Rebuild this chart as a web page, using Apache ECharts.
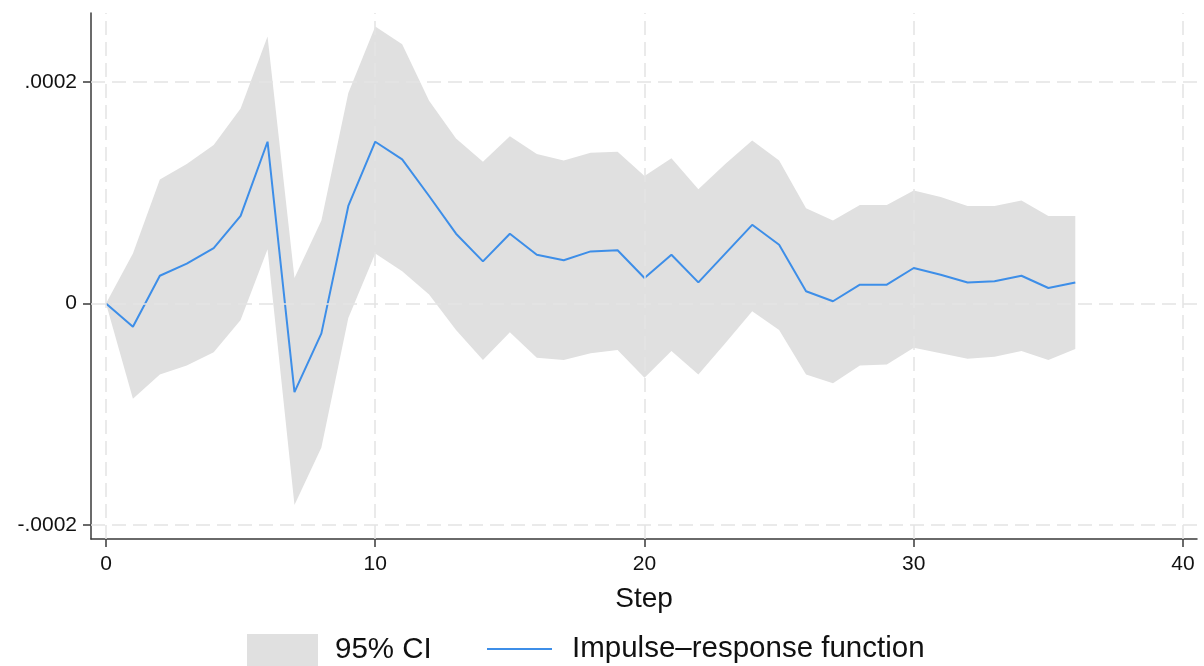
<!DOCTYPE html>
<html>
<head>
<meta charset="utf-8">
<script src="https://cdn.jsdelivr.net/npm/echarts@6/dist/echarts.min.js"></script>
<style>
html,body{margin:0;padding:0;background:#fff;}
#chart{width:1204px;height:666px;}
</style>
</head>
<body>
<div id="chart"></div>
<script>
const steps = [0,1,2,3,4,5,6,7,8,9,10,11,12,13,14,15,16,17,18,19,20,21,22,23,24,25,26,27,28,29,30,31,32,33,34,35,36];
const irf = [0,-2.1e-5,2.5e-5,3.6e-5,5.0e-5,7.9e-5,14.6e-5,-8.0e-5,-2.7e-5,8.8e-5,14.6e-5,13.0e-5,9.7e-5,6.3e-5,3.8e-5,6.3e-5,4.4e-5,3.9e-5,4.7e-5,4.8e-5,2.3e-5,4.4e-5,1.9e-5,4.5e-5,7.1e-5,5.3e-5,1.1e-5,0.2e-5,1.7e-5,1.7e-5,3.2e-5,2.6e-5,1.9e-5,2.0e-5,2.5e-5,1.4e-5,1.9e-5];
const ciUpper = [0,4.5e-5,11.2e-5,12.6e-5,14.3e-5,17.6e-5,24.1e-5,2.3e-5,7.5e-5,19.0e-5,25.0e-5,23.4e-5,18.3e-5,14.9e-5,12.8e-5,15.1e-5,13.5e-5,12.9e-5,13.6e-5,13.7e-5,11.5e-5,13.1e-5,10.3e-5,12.6e-5,14.7e-5,12.9e-5,8.6e-5,7.5e-5,8.9e-5,8.9e-5,10.2e-5,9.6e-5,8.8e-5,8.8e-5,9.3e-5,7.9e-5,7.9e-5];
const ciLower = [0,-8.6e-5,-6.4e-5,-5.6e-5,-4.4e-5,-1.5e-5,4.9e-5,-18.2e-5,-13.0e-5,-1.3e-5,4.5e-5,2.9e-5,0.8e-5,-2.4e-5,-5.1e-5,-2.6e-5,-4.9e-5,-5.1e-5,-4.5e-5,-4.2e-5,-6.7e-5,-4.3e-5,-6.4e-5,-3.6e-5,-0.7e-5,-2.4e-5,-6.4e-5,-7.2e-5,-5.6e-5,-5.5e-5,-4.0e-5,-4.5e-5,-5.0e-5,-4.8e-5,-4.3e-5,-5.1e-5,-4.1e-5];
const xTicks = [0,10,20,30,40];
const yTicks = [-0.0002,0,0.0002];
const xTitle = 'Step';
const ciName = '95% CI';
const irfName = 'Impulse\u2013response function';

const FONT = '"Liberation Sans", Arial, sans-serif';
const chart = echarts.init(document.getElementById('chart'), null, {renderer:'canvas'});

const gridLineStyle = {color:'#e4e4e4', width:1.5, type:[14,7]};
const axisColor = '#3a3a3a';

const option = {
  animation:false,
  backgroundColor:'#fff',
  grid:{left:91, top:13, right:7, bottom:127, containLabel:false, outerBoundsMode:'none'},
  xAxis:{
    type:'value', min:-0.557, max:40.52,
    name:xTitle, nameLocation:'middle', nameGap:46,
    nameTextStyle:{fontFamily:FONT, fontSize:28, color:'#111'},
    axisLine:{show:true, onZero:false, lineStyle:{color:axisColor, width:1.5}},
    axisTick:{show:true, length:8, customValues:xTicks, lineStyle:{color:axisColor, width:1.5}},
    axisLabel:{customValues:xTicks, margin:15, fontFamily:FONT, fontSize:21, color:'#111'},
    splitLine:{show:false}
  },
  yAxis:{
    type:'value', min:-2.126e-4, max:2.622e-4,
    axisLine:{show:true, onZero:false, lineStyle:{color:axisColor, width:1.5}},
    axisTick:{show:true, length:8, customValues:yTicks, lineStyle:{color:axisColor, width:1.5}},
    axisLabel:{customValues:yTicks, margin:14, fontFamily:FONT, fontSize:21, color:'#111',
      formatter:function(v){ return Math.abs(v) < 1e-12 ? '0' : String(v).replace('0.', '.'); }},
    splitLine:{show:false}
  },
  legend:[
    {left:247, top:634, padding:0, itemWidth:71, itemHeight:32,
     data:[{name:ciName, icon:'rect'}],
     textStyle:{fontFamily:FONT, fontSize:29.5, color:'#111', padding:[0,0,0,12]}},
    {left:487, top:634, padding:0, itemWidth:65, itemHeight:32,
     data:[{name:irfName, icon:'path://M0,0 L65,0 L65,2 L0,2 Z'}],
     textStyle:{fontFamily:FONT, fontSize:29.5, color:'#111', padding:[0,0,0,15]}}
  ],
  series:[
    {
      name:'grid', type:'line', z:1, silent:true,
      data:[[0,0]], showSymbol:false, symbol:'none', lineStyle:{opacity:0},
      markLine:{
        silent:true, symbol:['none','none'], label:{show:false}, animation:false,
        precision:10,
        lineStyle:gridLineStyle,
        data: xTicks.map(v => ({xAxis:v})).concat(yTicks.map(v => ({yAxis:v})))
      }
    },
    {
      name:ciName, type:'custom', z:2, silent:true,
      itemStyle:{color:'#e0e0e0'},
      data:[[0,0]],
      encode:{x:0, y:1},
      renderItem:function(params, api){
        if (params.dataIndexInside !== 0) return;
        const pts = [];
        for (let i = 0; i < steps.length; i++) pts.push(api.coord([steps[i], ciUpper[i]]));
        for (let i = steps.length - 1; i >= 0; i--) pts.push(api.coord([steps[i], ciLower[i]]));
        return {type:'polygon', shape:{points:pts}, style:{fill:'#e0e0e0'}};
      }
    },
    {
      name:irfName, type:'line', z:3,
      data: steps.map((s,i) => [s, irf[i]]),
      symbol:'none', showSymbol:false,
      itemStyle:{color:'#3d8ee8'},
      lineStyle:{color:'#3d8ee8', width:2}
    }
  ]
};
chart.setOption(option);
</script>
</body>
</html>
